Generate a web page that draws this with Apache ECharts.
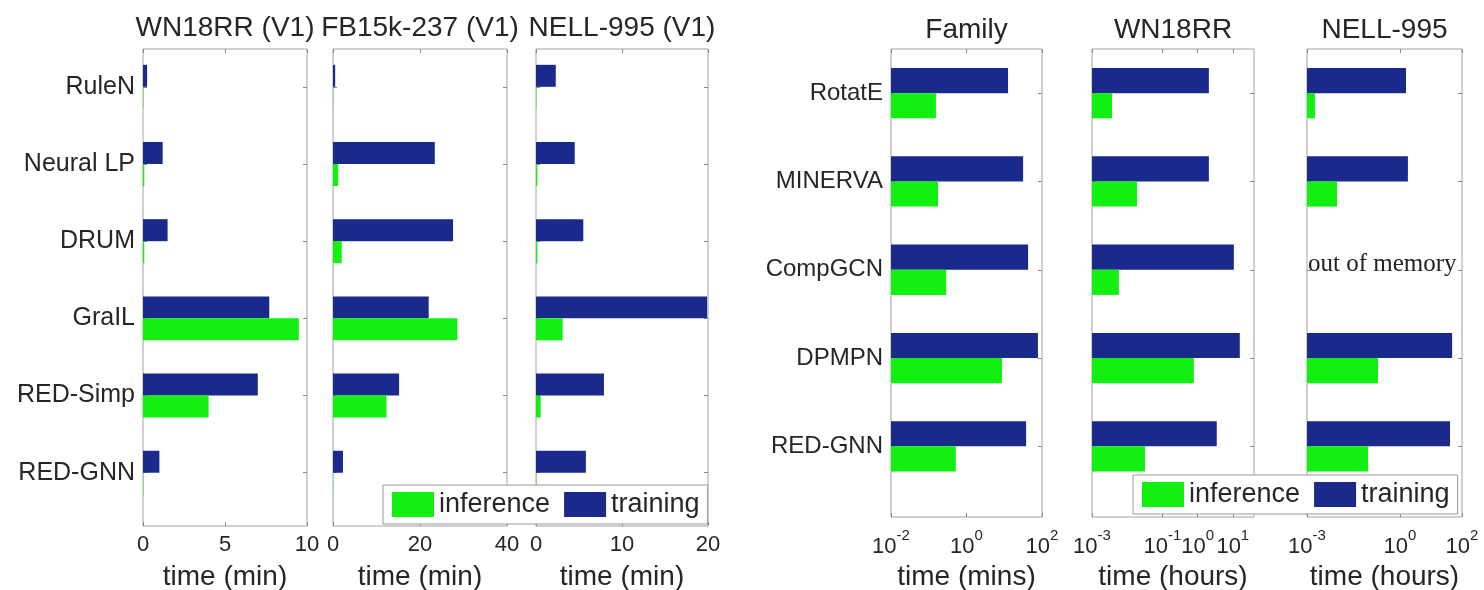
<!DOCTYPE html>
<html>
<head>
<meta charset="utf-8">
<script src="https://cdn.jsdelivr.net/npm/echarts@6/dist/echarts.min.js"></script>
<style>
  html, body { margin: 0; padding: 0; background: #fff; }
  #chart { width: 1484px; height: 590px; }
</style>
</head>
<body>
<div id="chart"></div>
<script>
// ---- Inductive setting (V1 splits), time in minutes ----
const inductiveMethods = ['RuleN', 'Neural LP', 'DRUM', 'GraIL', 'RED-Simp', 'RED-GNN'];
const wn18rrV1Training  = [0.25, 1.2, 1.5, 7.7, 7.0, 1.0];
const wn18rrV1Inference = [0.02, 0.08, 0.08, 9.5, 4.0, 0.02];
const fb15kV1Training   = [0.5, 23.4, 27.6, 22.0, 15.2, 2.3];
const fb15kV1Inference  = [0.05, 1.2, 2.0, 28.6, 12.3, 0.05];
const nellV1Training    = [2.3, 4.5, 5.5, 19.9, 7.9, 5.8];
const nellV1Inference   = [0.05, 0.15, 0.15, 3.1, 0.55, 0.05];

const wn18rrV1Ticks = [0, 5, 10];
const fb15kV1Ticks  = [0, 20, 40];
const nellV1Ticks   = [0, 10, 20];

// ---- Transductive setting (log scale) ----
const transductiveMethods = ['RotatE', 'MINERVA', 'CompGCN', 'DPMPN', 'RED-GNN'];
const familyTraining  = [12.6, 31.6, 42.8, 78, 38];          // minutes
const familyInference = [0.155, 0.176, 0.29, 8.7, 0.52];
const wn18rrTraining  = [2.09, 2.09, 10.7, 15.8, 3.5];        // hours
const wn18rrInference = [0.0037, 0.019, 0.0058, 0.78, 0.032];
const nellTraining    = [1.56, 1.8, null, 48, 41];            // hours, CompGCN ran out of memory
const nellInference   = [0.0018, 0.0093, null, 0.195, 0.094];

const familyTicks = [0.01, 1, 100];
const wn18rrTicks = [0.001, 0.1, 1, 10];
const nellTicks   = [0.001, 1, 100];

const seriesNames = ['inference', 'training'];

// ---- styling ----
const FONT = '"Liberation Sans", Arial, Helvetica, sans-serif';
const TEXT = '#262626';
const FRAME = '#a3a3a3';
const TRAIN_COLOR = '#1a2a8c';
const INFER_COLOR = '#12f012';
const BAR_H = 0.285; // bar thickness in category units

const groups = {
  inductive:    { top: 49, height: 477, yMin: -0.49, yMax: 5.69, nameGap: 37, labelMargin: 8,  titleTop: 14, catSize: 25 },
  transductive: { top: 49, height: 468, yMin: -0.5,  yMax: 4.8,  nameGap: 46, labelMargin: 11, titleTop: 16, catSize: 24 }
};

const panels = [
  { group: 'inductive', title: 'WN18RR (V1)', methods: inductiveMethods, training: wn18rrV1Training, inference: wn18rrV1Inference,
    type: 'value', min: 0, max: 10, ticks: wn18rrV1Ticks, name: 'time (min)', left: 143, width: 164, cats: true },
  { group: 'inductive', title: 'FB15k-237 (V1)', methods: inductiveMethods, training: fb15kV1Training, inference: fb15kV1Inference,
    type: 'value', min: 0, max: 40, ticks: fb15kV1Ticks, name: 'time (min)', left: 333, width: 174, cats: false },
  { group: 'inductive', title: 'NELL-995 (V1)', methods: inductiveMethods, training: nellV1Training, inference: nellV1Inference,
    type: 'value', min: 0, max: 20, ticks: nellV1Ticks, name: 'time (min)', left: 536, width: 172, cats: false },
  { group: 'transductive', title: 'Family', methods: transductiveMethods, training: familyTraining, inference: familyInference,
    type: 'log', min: 0.01, max: 100, ticks: familyTicks, name: 'time (mins)', left: 891, width: 151, cats: true },
  { group: 'transductive', title: 'WN18RR', methods: transductiveMethods, training: wn18rrTraining, inference: wn18rrInference,
    type: 'log', min: 0.001, max: 40, ticks: wn18rrTicks, name: 'time (hours)', left: 1092, width: 162, cats: false },
  { group: 'transductive', title: 'NELL-995', methods: transductiveMethods, training: nellTraining, inference: nellInference,
    type: 'log', min: 0.001, max: 100, ticks: nellTicks, name: 'time (hours)', left: 1307, width: 155, cats: false }
];

function powerLabel(v) {
  const e = Math.round(Math.log10(v));
  return '{b|10}{s|' + e + '}';
}

// horizontal bar drawn through the panel's own axes
function barRenderer(base, offset, color) {
  return function (params, api) {
    const v = api.value(0);
    const idx = api.value(1);
    const p0 = api.coord([base, idx + offset]);
    const p1 = api.coord([v, idx + offset + BAR_H]);
    return {
      type: 'rect',
      shape: { x: p0[0], y: p0[1], width: p1[0] - p0[0], height: p1[1] - p0[1] },
      style: { fill: color }
    };
  };
}

const grid = [], xAxis = [], yAxis = [], series = [], title = [];
const noLine = { show: false, onZero: false };

panels.forEach((p, k) => {
  const g = groups[p.group];
  grid.push({
    left: p.left, top: g.top, width: p.width, height: g.height,
    show: true, borderColor: FRAME, borderWidth: 1, backgroundColor: '#fff',
    outerBoundsMode: 'none', containLabel: false
  });

  const isLog = p.type === 'log';
  const tickStyle = { show: true, inside: true, length: 4, customValues: p.ticks, lineStyle: { color: '#8a8a8a', width: 1 } };

  // bottom axis with labels
  xAxis.push({
    gridIndex: k, type: p.type, logBase: 10, min: p.min, max: p.max, position: 'bottom',
    axisLine: noLine, splitLine: { show: false },
    axisTick: tickStyle,
    axisLabel: {
      show: true, customValues: p.ticks, margin: g.labelMargin, color: TEXT, fontFamily: FONT, fontSize: 22,
      formatter: isLog ? powerLabel : (v => String(v)),
      rich: {
        b: { fontSize: 22, fontFamily: FONT, color: TEXT, verticalAlign: 'bottom', lineHeight: 30 },
        s: { fontSize: 15, fontFamily: FONT, color: TEXT, verticalAlign: 'top', lineHeight: 16 }
      }
    },
    name: p.name, nameLocation: 'middle', nameGap: g.nameGap,
    nameTextStyle: { fontSize: 28, fontFamily: FONT, color: TEXT }
  });
  // mirrored top ticks
  xAxis.push({
    gridIndex: k, type: p.type, logBase: 10, min: p.min, max: p.max, position: 'top',
    axisLine: noLine, splitLine: { show: false }, axisLabel: { show: false },
    axisTick: tickStyle
  });

  const catValues = p.methods.map((_, i) => i);
  const catTick = { show: true, inside: true, length: 4, customValues: catValues, lineStyle: { color: '#8a8a8a', width: 1 } };
  yAxis.push({
    gridIndex: k, type: 'value', inverse: true, min: g.yMin, max: g.yMax, position: 'left',
    axisLine: noLine, splitLine: { show: false },
    axisTick: catTick,
    axisLabel: {
      show: p.cats, customValues: catValues, margin: 8, color: TEXT, fontFamily: FONT, fontSize: g.catSize,
      formatter: v => p.methods[Math.round(v)]
    }
  });
  yAxis.push({
    gridIndex: k, type: 'value', inverse: true, min: g.yMin, max: g.yMax, position: 'right',
    axisLine: noLine, splitLine: { show: false }, axisLabel: { show: false },
    axisTick: catTick
  });

  const toData = arr => arr.map((v, i) => [v, i]).filter(d => d[0] != null);
  series.push({
    type: 'custom', name: 'training', xAxisIndex: 2 * k, yAxisIndex: 2 * k,
    itemStyle: { color: TRAIN_COLOR }, z: 3,
    renderItem: barRenderer(p.min, -BAR_H, TRAIN_COLOR),
    data: toData(p.training), encode: { x: 0, y: 1 }
  });
  series.push({
    type: 'custom', name: 'inference', xAxisIndex: 2 * k, yAxisIndex: 2 * k,
    itemStyle: { color: INFER_COLOR }, z: 3,
    renderItem: barRenderer(p.min, 0, INFER_COLOR),
    data: toData(p.inference), encode: { x: 0, y: 1 }
  });

  title.push({
    text: p.title, left: p.left + p.width / 2, top: g.titleTop, textAlign: 'center', padding: 0,
    textStyle: { fontSize: 28, fontWeight: 'normal', color: TEXT, fontFamily: FONT }
  });
});

const legendBase = {
  data: seriesNames, orient: 'horizontal', icon: 'rect', selectedMode: false,
  itemWidth: 42, itemHeight: 25, itemGap: 14, padding: [6, 8, 6, 9],
  backgroundColor: '#fff', borderColor: '#9a9a9a', borderWidth: 1,
  textStyle: { fontSize: 27, color: TEXT, fontFamily: FONT }, z: 10
};

const option = {
  animation: false,
  backgroundColor: '#fff',
  textStyle: { fontFamily: FONT },
  title, grid, xAxis, yAxis, series,
  legend: [
    Object.assign({}, legendBase, { left: 383, top: 485 }),
    Object.assign({}, legendBase, { left: 1133, top: 475 })
  ],
  graphic: [{
    type: 'text', left: 1308, top: 252, z: 20,
    style: { text: 'out of memory', font: '25px "Liberation Serif", "Times New Roman", serif', fill: '#222' }
  }]
};

const chart = echarts.init(document.getElementById('chart'), null, { renderer: 'canvas' });
chart.setOption(option);
</script>
</body>
</html>
